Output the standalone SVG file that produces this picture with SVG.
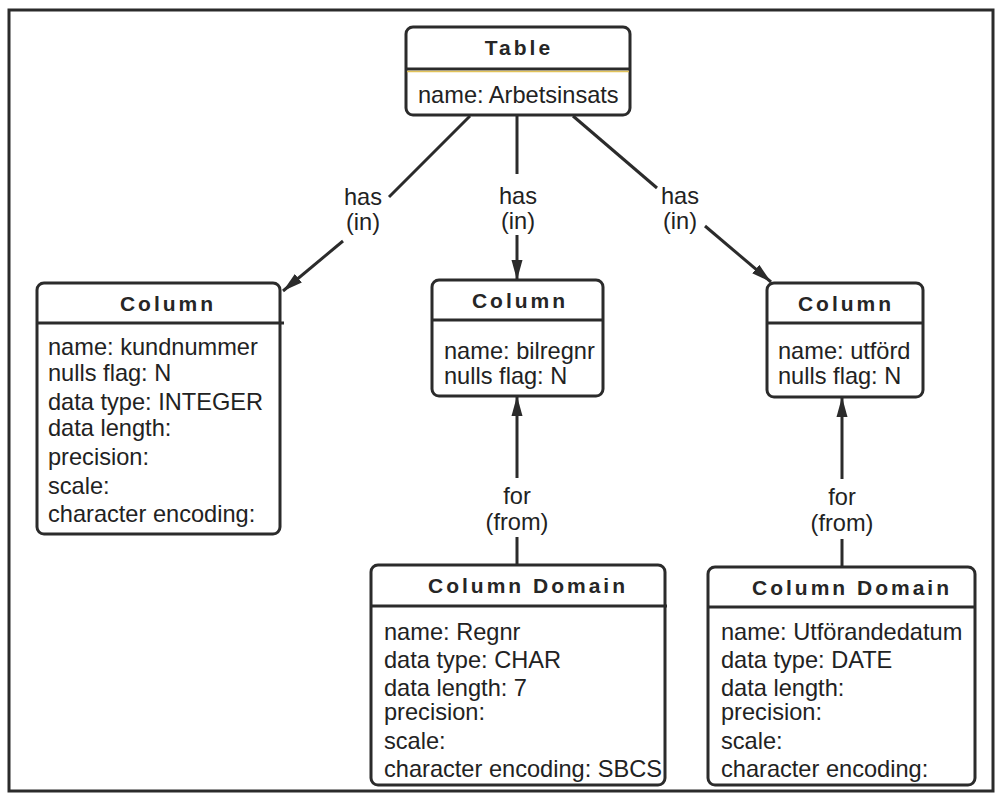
<svg xmlns="http://www.w3.org/2000/svg" width="996" height="797" viewBox="0 0 996 797">
  <defs>
    <marker id="arrow" markerUnits="userSpaceOnUse" markerWidth="22" markerHeight="14" refX="20" refY="7" orient="auto">
      <path d="M0,1.5 L20,7 L0,12.5 Z" fill="#2b2b2b"/>
    </marker>
    <style>
      .box { fill: #ffffff; stroke: #2b2b2b; stroke-width: 3; }
      .div { stroke: #2b2b2b; stroke-width: 3; fill: none; }
      .hdr { font-family: "Liberation Sans", Arial, Helvetica, sans-serif; font-weight: bold; font-size: 21px; letter-spacing: 3px; fill: #262626; text-anchor: middle; }
      .att { font-family: "Liberation Sans", Arial, Helvetica, sans-serif; font-size: 23.6px; fill: #222222; }
      .lbl { font-family: "Liberation Sans", Arial, Helvetica, sans-serif; font-size: 23.6px; fill: #222222; text-anchor: middle; }
      .con { stroke: #2b2b2b; stroke-width: 3; fill: none; }
    </style>
  </defs>

  <rect width="996" height="797" fill="#ffffff"/>
  <!-- outer frame -->
  <rect x="9" y="10" width="984" height="781" fill="none" stroke="#2b2b2b" stroke-width="3"/>

  <!-- connectors -->
  <g id="connectors">
    <line class="con" x1="470" y1="116" x2="389" y2="197"/>
    <line class="con" x1="343" y1="241" x2="283" y2="291" marker-end="url(#arrow)"/>
    <text class="lbl" x="363" y="205">has</text>
    <text class="lbl" x="363" y="230">(in)</text>

    <line class="con" x1="517" y1="116" x2="517" y2="174"/>
    <line class="con" x1="517" y1="235" x2="517" y2="280" marker-end="url(#arrow)"/>
    <text class="lbl" x="518" y="204">has</text>
    <text class="lbl" x="518" y="229">(in)</text>

    <line class="con" x1="573" y1="116" x2="657" y2="188"/>
    <line class="con" x1="705" y1="226" x2="771" y2="282" marker-end="url(#arrow)"/>
    <text class="lbl" x="680" y="204">has</text>
    <text class="lbl" x="680" y="229">(in)</text>

    <line class="con" x1="517" y1="478" x2="517" y2="396" marker-end="url(#arrow)"/>
    <line class="con" x1="517" y1="537" x2="517" y2="565"/>
    <text class="lbl" x="517" y="504">for</text>
    <text class="lbl" x="517" y="530">(from)</text>

    <line class="con" x1="842" y1="479" x2="842" y2="397" marker-end="url(#arrow)"/>
    <line class="con" x1="842" y1="539" x2="842" y2="567"/>
    <text class="lbl" x="842" y="505">for</text>
    <text class="lbl" x="842" y="531">(from)</text>
  </g>

  <!-- Table node -->
  <g id="table">
    <rect class="box" x="406" y="27" width="224" height="88" rx="7"/>
    <line class="div" x1="406" y1="69" x2="630" y2="69"/>
    <line x1="407" y1="71.5" x2="629" y2="71.5" stroke="#e2c35a" stroke-width="1.5"/>
    <text class="hdr" x="519" y="55">Table</text>
    <text class="att" x="418" y="103">name: Arbetsinsats</text>
  </g>

  <!-- Column: kundnummer -->
  <g id="column-kundnummer">
    <rect class="box" x="37" y="283" width="243" height="251" rx="7"/>
    <line class="div" x1="37" y1="323" x2="284" y2="323"/>
    <text class="hdr" x="168" y="311">Column</text>
    <text class="att" x="48" y="355">name: kundnummer</text>
    <text class="att" x="48" y="381">nulls flag: N</text>
    <text class="att" x="48" y="410">data type: INTEGER</text>
    <text class="att" x="48" y="436">data length:</text>
    <text class="att" x="48" y="465">precision:</text>
    <text class="att" x="48" y="494">scale:</text>
    <text class="att" x="48" y="522">character encoding:</text>
  </g>

  <!-- Column: bilregnr -->
  <g id="column-bilregnr">
    <rect class="box" x="432" y="280" width="171" height="116" rx="7"/>
    <line class="div" x1="432" y1="320" x2="603" y2="320"/>
    <text class="hdr" x="520" y="308">Column</text>
    <text class="att" x="444" y="359">name: bilregnr</text>
    <text class="att" x="444" y="384">nulls flag: N</text>
  </g>

  <!-- Column: utförd -->
  <g id="column-utford">
    <rect class="box" x="767" y="283" width="156" height="114" rx="7"/>
    <line class="div" x1="767" y1="323" x2="923" y2="323"/>
    <text class="hdr" x="846" y="311">Column</text>
    <text class="att" x="778" y="359">name: utförd</text>
    <text class="att" x="778" y="384">nulls flag: N</text>
  </g>

  <!-- Column Domain: Regnr -->
  <g id="domain-regnr">
    <rect class="box" x="371" y="565" width="294" height="220" rx="7"/>
    <line class="div" x1="371" y1="606" x2="667" y2="606"/>
    <text class="hdr" x="528" y="593">Column  Domain</text>
    <text class="att" x="384" y="640">name: Regnr</text>
    <text class="att" x="384" y="668">data type: CHAR</text>
    <text class="att" x="384" y="696">data length: 7</text>
    <text class="att" x="384" y="720">precision:</text>
    <text class="att" x="384" y="749">scale:</text>
    <text class="att" x="384" y="777">character encoding: SBCS</text>
  </g>

  <!-- Column Domain: Utförandedatum -->
  <g id="domain-utforandedatum">
    <rect class="box" x="708" y="567" width="267" height="218" rx="7"/>
    <line class="div" x1="708" y1="607" x2="975" y2="607"/>
    <text class="hdr" x="852" y="595">Column  Domain</text>
    <text class="att" x="721" y="640">name: Utförandedatum</text>
    <text class="att" x="721" y="668">data type: DATE</text>
    <text class="att" x="721" y="696">data length:</text>
    <text class="att" x="721" y="720">precision:</text>
    <text class="att" x="721" y="749">scale:</text>
    <text class="att" x="721" y="777">character encoding:</text>
  </g>
</svg>
